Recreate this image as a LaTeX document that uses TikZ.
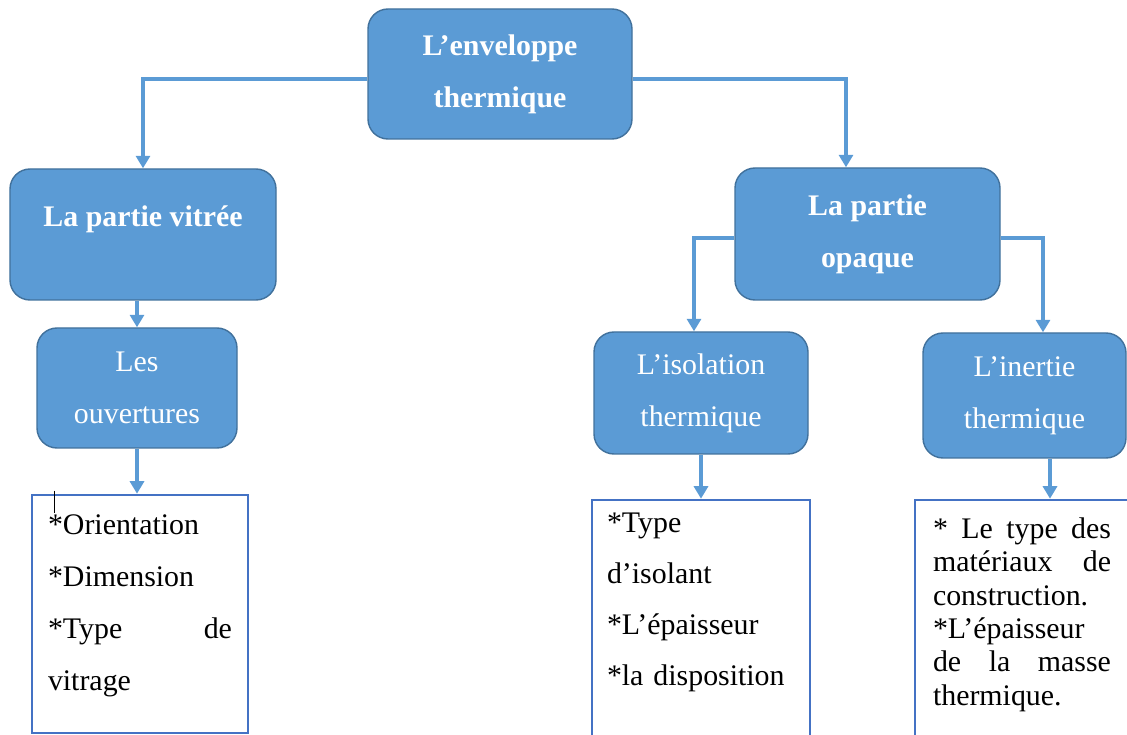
\documentclass[tikz,border=0pt]{standalone}
\usepackage{fontspec}
\setmainfont{Liberation Serif}
\usetikzlibrary{arrows.meta,positioning}
\definecolor{boxblue}{RGB}{91,155,213}
\definecolor{boxedge}{RGB}{65,113,156}
\definecolor{frameblue}{RGB}{68,114,196}

\begin{document}
\begin{tikzpicture}[>={Triangle[width=0.28cm,length=0.25cm]},
  every node/.style={font=\fontsize{17}{29.5}\selectfont},
  bluebox/.style={draw=boxedge,line width=0.8pt,rounded corners=0.4cm,fill=boxblue,text=white,align=center},
  head/.style={bluebox,font=\fontsize{17}{29.5}\selectfont\bfseries},
  listbox/.style={draw=frameblue,line width=1.1pt,align=left},
  link/.style={->,draw=boxblue,line width=1.8pt}]
\useasboundingbox (0,0) rectangle (22.54,-14.7);
% blue boxes
\node[head,minimum width=5.28cm,minimum height=2.6cm] (env) at (10.0,-1.48) {L’enveloppe\\thermique};
\node[head,minimum width=5.32cm,minimum height=2.62cm,text depth=0.75cm] (vit) at (2.86,-4.69) {La partie vitrée};
\node[head,minimum width=5.3cm,minimum height=2.64cm] (opa) at (17.35,-4.68) {La partie\\opaque};
\node[bluebox,minimum width=4.0cm,minimum height=2.4cm] (ouv) at (2.74,-7.76) {Les\\ouvertures};
\node[bluebox,minimum width=4.28cm,minimum height=2.44cm] (iso) at (14.02,-7.86) {L’isolation\\thermique};
\node[bluebox,minimum width=4.06cm,minimum height=2.5cm] (ine) at (20.49,-7.91) {L’inertie\\thermique};
% lists
\node[listbox,below=0.9cm of ouv,xshift=0.06cm,text width=3.68cm,inner xsep=0.32cm,inner ysep=0.4cm,text depth=3.58cm,
  font=\fontsize{17}{29.6}\selectfont] (tvit) {*Orientation\\{}*Dimension\\{}*Type\hfill de\\vitrage};
\node[listbox,below=0.88cm of iso,text width=3.76cm,inner xsep=0.3cm,inner ysep=0.26cm,text depth=4.3cm,
  font=\fontsize{17}{29}\selectfont] (tiso) {*Type\\d’isolant\\{}*L’épaisseur\\{}*la disposition};
\node[listbox,below=0.8cm of ine,xshift=-0.05cm,text width=3.56cm,inner xsep=0.36cm,inner ysep=0.36cm,text depth=4.1cm,
  font=\fontsize{17}{19}\selectfont] (tine) {*\hfill Le\hfill type\hfill des\\matériaux\hfill de\\construction.\\{}*L’épaisseur\\de\hfill la\hfill masse\\thermique.};
\draw[line width=0.6pt] ([xshift=0.47cm,yshift=0.06cm]tvit.north west) -- ++(0,-0.44);
% arrows
\draw[link] ([yshift=-0.1cm]env.west) -| (vit.north);
\draw[link] ([yshift=-0.1cm]env.east) -| ([xshift=-0.43cm]opa.north);
\draw[link] (vit.south -| ouv.north) -- (ouv.north);
\draw[link] (ouv.south) -- (ouv.south |- tvit.north);
\draw[link] ([yshift=-0.08cm]opa.west) -| ([xshift=-0.14cm]iso.north);
\draw[link] ([yshift=-0.08cm]opa.east) -| ([xshift=0.37cm]ine.north);
\draw[link] (iso.south) -- (iso.south |- tiso.north);
\draw[link] ([xshift=0.51cm]ine.south) -- ([xshift=0.51cm]ine.south |- tine.north);
\end{tikzpicture}
\end{document}
